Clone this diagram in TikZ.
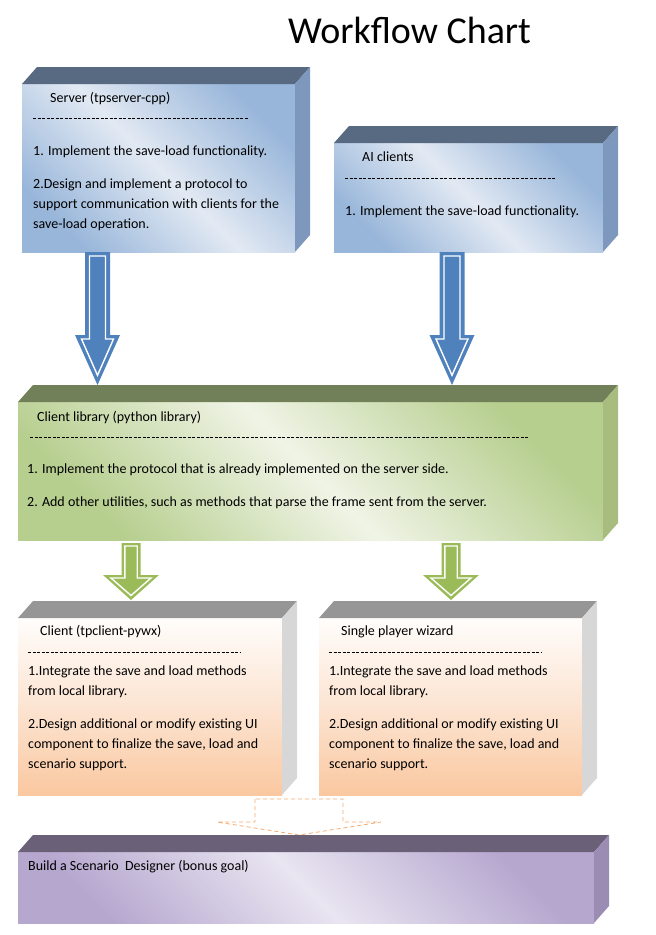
\documentclass[tikz,border=0pt]{standalone}
\usepackage{fontspec}
\setmainfont{Carlito}
\usetikzlibrary{calc}
\definecolor{btop}{RGB}{88,105,130}
\definecolor{bside}{RGB}{125,152,188}
\definecolor{bdark}{RGB}{152,182,218}
\definecolor{blight}{RGB}{226,233,243}
\definecolor{gtop}{RGB}{113,128,88}
\definecolor{gside}{RGB}{168,188,128}
\definecolor{gdark}{RGB}{182,206,142}
\definecolor{glight}{RGB}{240,244,230}
\definecolor{ktop}{RGB}{150,150,150}
\definecolor{kside}{RGB}{215,215,215}
\definecolor{pwhite}{RGB}{255,253,251}
\definecolor{pmid}{RGB}{252,228,210}
\definecolor{peach}{RGB}{250,200,160}
\definecolor{vtop}{RGB}{106,96,120}
\definecolor{vside}{RGB}{155,140,180}
\definecolor{vdark}{RGB}{182,167,207}
\definecolor{vlight}{RGB}{233,229,241}
\definecolor{arblue}{RGB}{79,129,189}
\definecolor{argreen}{RGB}{155,187,89}
\definecolor{dorange}{RGB}{245,170,110}
% 3D box faces: #1 node, #2 top colour, #3 side colour
\newcommand\cubefaces[3]{%
  \fill[#2] (#1.north west) -- ($(#1.north west)+(15,-17)$) -- ($(#1.north east)+(15,-17)$) -- (#1.north east) -- cycle;
  \fill[#3] (#1.north east) -- ($(#1.north east)+(15,-17)$) -- ($(#1.south east)+(15,-17)$) -- (#1.south east) -- cycle;}
% block arrow: #1 start, #2 tip, #3 shaft half width, #4 head half width, #5 head length, #6 style
\newcommand\blockarrow[6]{%
  \path[#6] ($(#1)+(-#3,0)$) -- ($(#2)+(-#3,-#5)$) -- ($(#2)+(-#4,-#5)$) -- (#2)
    -- ($(#2)+(#4,-#5)$) -- ($(#2)+(#3,-#5)$) -- ($(#1)+(#3,0)$) -- cycle;}
\begin{document}
\begin{tikzpicture}[x=1pt,y=-1pt,
  face/.style={rectangle,inner sep=0pt,outer sep=0pt},
  bluefront/.style={face,top color=bdark,bottom color=bdark,middle color=blight,shading angle=-45},
  greenfront/.style={face,top color=gdark,bottom color=gdark,middle color=glight,shading angle=-45},
  peachfront/.style={face,top color=pwhite,bottom color=peach,middle color=pmid},
  violetfront/.style={face,top color=vdark,bottom color=vdark,middle color=vlight,shading angle=-45},
  txt/.style={anchor=base west,inner sep=0pt,font=\fontsize{14}{16}\selectfont,text=black},
  sepline/.style={dash pattern=on 3.2pt off 1.3pt,line width=0.7pt,draw=black},
  bluearrow/.style={fill=arblue},
  greenarrow/.style={fill=argreen},
  innerline/.style={draw=white,line width=1.4pt,line join=miter},
  ghostarrow/.style={draw=dorange,line width=0.8pt,dash pattern=on 4pt off 3pt},
]
\useasboundingbox (0,0) rectangle (656,935);

\node[anchor=base,inner sep=0pt,font=\fontsize{38}{40}\selectfont] (title) at (409.5,43) {Workflow Chart};

% boxes
\node[bluefront,minimum width=273pt,minimum height=168pt] (server) at (158.5,168) {};
\cubefaces{server}{btop}{bside}
\node[bluefront,minimum width=269pt,minimum height=109pt] (ai) at (468.5,197.5) {};
\cubefaces{ai}{btop}{bside}
\node[greenfront,minimum width=585pt,minimum height=138pt] (lib) at (310.5,471) {};
\cubefaces{lib}{gtop}{gside}
\node[peachfront,minimum width=264pt,minimum height=177pt] (client) at (150,706.5) {};
\cubefaces{client}{ktop}{kside}
\node[peachfront,minimum width=263pt,minimum height=177pt] (wizard) at (450.5,706.5) {};
\cubefaces{wizard}{ktop}{kside}

% dashed ghost arrow (behind the last box)
\node[violetfront,minimum width=576pt,minimum height=71pt] (designer) at (306,887.5) {};
\coordinate (designertop) at ($(designer.north)+(0,-17)$);
\coordinate (d1s) at ($(client.south east)!0.5!(wizard.south west)+(-1.5,4)$);
\coordinate (d1e) at (d1s |- designertop);
\blockarrow{d1s}{d1e}{44}{82}{13}{ghostarrow}
\cubefaces{designer}{vtop}{vside}

% texts: server
\node[txt] (s0) at (50,102) {Server (tpserver-cpp)};
\draw[sepline] (33,118) -- (248,118);
\node[txt] (s1) at (33,155) {1. Implement the save-load functionality.};
\node[txt] (s2) at (33,188) {2.Design and implement a protocol to};
\node[txt] (s3) at (33,208) {support communication with clients for the};
\node[txt] (s4) at (33,228) {save-load operation.};
% AI clients
\node[txt] (a0) at (362,161) {AI clients};
\draw[sepline] (345,178) -- (556,178);
\node[txt] (a1) at (345,215) {1. Implement the save-load functionality.};
% library
\node[txt] (l0) at (37,421) {Client library (python library)};
\draw[sepline] (30,437) -- (528,437);
\node[txt] (l1) at (27,473) {1. Implement the protocol that is already implemented on the server side.};
\node[txt] (l2) at (27,506) {2. Add other utilities, such as methods that parse the frame sent from the server.};
% client
\node[txt] (c0) at (40,635) {Client (tpclient-pywx)};
\draw[sepline] (28,652) -- (240,652);
\node[txt] (c1) at (28,675) {1.Integrate the save and load methods};
\node[txt] (c2) at (28,695) {from local library.};
\node[txt] (c3) at (28,728) {2.Design additional or modify existing UI};
\node[txt] (c4) at (28,748) {component to finalize the save, load and};
\node[txt] (c5) at (28,768) {scenario support.};
% wizard
\node[txt] (w0) at (341,635) {Single player wizard};
\draw[sepline] (329,652) -- (541,652);
\node[txt] (w1) at (329,675) {1.Integrate the save and load methods};
\node[txt] (w2) at (329,695) {from local library.};
\node[txt] (w3) at (329,728) {2.Design additional or modify existing UI};
\node[txt] (w4) at (329,748) {component to finalize the save, load and};
\node[txt] (w5) at (329,768) {scenario support.};
% designer
\node[txt] (v0) at (28,870) {Build a Scenario\ \ Designer (bonus goal)};

% blue arrows
\coordinate (libtop) at ($(lib.north)+(0,-17)$);
\coordinate (a1s) at ($(server.south west)+(75.5,0)$);
\coordinate (a1e) at (a1s |- libtop);
\coordinate (a1si) at ($(a1s)+(0,4)$);
\coordinate (a1ei) at ($(a1e)+(0,-9.7)$);
\blockarrow{a1s}{a1e}{12.5}{22.5}{50}{bluearrow}
\blockarrow{a1si}{a1ei}{8}{16}{36.3}{innerline}
\coordinate (a2s) at ($(ai.south west)+(118,0)$);
\coordinate (a2e) at (a2s |- libtop);
\coordinate (a2si) at ($(a2s)+(0,4)$);
\coordinate (a2ei) at ($(a2e)+(0,-9.7)$);
\blockarrow{a2s}{a2e}{12.5}{22.5}{50}{bluearrow}
\blockarrow{a2si}{a2ei}{8}{16}{36.3}{innerline}

% green arrows
\coordinate (clienttop) at ($(client.north)+(0,-18)$);
\coordinate (g1s) at ($(lib.south west)+(113,3)$);
\coordinate (g1e) at (g1s |- clienttop);
\coordinate (g1si) at ($(g1s)+(0,3)$);
\coordinate (g1ei) at ($(g1e)+(0,-4.5)$);
\blockarrow{g1s}{g1e}{9.5}{28}{25}{greenarrow}
\blockarrow{g1si}{g1ei}{6.2}{20}{17.5}{innerline}
\coordinate (g2s) at ($(lib.south west)+(433,3)$);
\coordinate (g2e) at (g2s |- clienttop);
\coordinate (g2si) at ($(g2s)+(0,3)$);
\coordinate (g2ei) at ($(g2e)+(0,-4.5)$);
\blockarrow{g2s}{g2e}{9.5}{28}{25}{greenarrow}
\blockarrow{g2si}{g2ei}{6.2}{20}{17.5}{innerline}
\end{tikzpicture}
\end{document}
